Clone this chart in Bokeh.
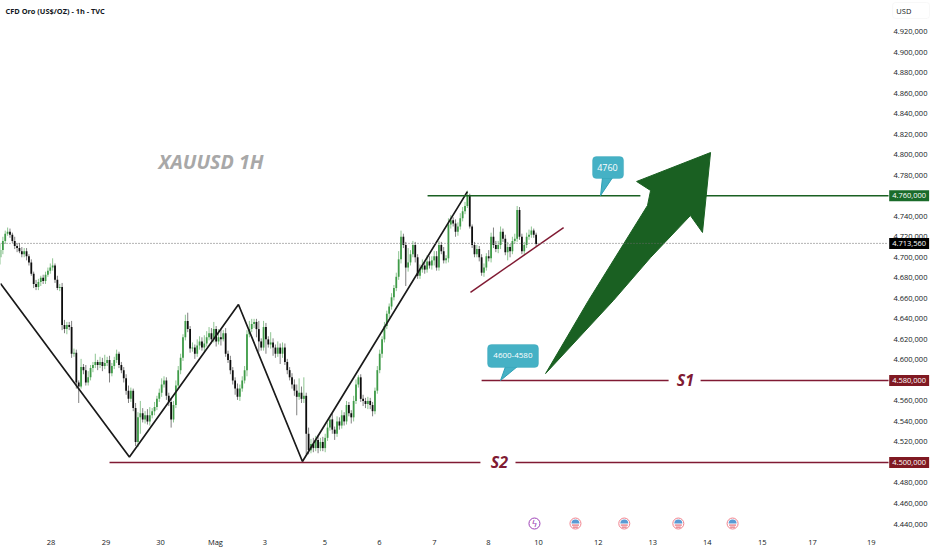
from math import pi
from bokeh.plotting import figure
from bokeh.models import Range1d, FixedTicker, Label, BoxAnnotation, ColumnDataSource
from bokeh.core.properties import value
from bokeh.embed import file_html
from bokeh.resources import INLINE

closes = [
 4707,4716,4723,4725,4722,4716,4711,4709,4706,4703,
 4706,4701,4695,4684,4674,4671,4676,4680,4677,4683,
 4687,4690,4692,4678,4670,4671,4634,4630,4634,4632,
 4606,4607,4578,4574,4593,4590,4578,4583,4592,4595,
 4598,4595,4598,4594,4597,4600,4587,4594,4600,4606,
 4595,4590,4582,4570,4562,4570,4553,4520,4544,4548,
 4542,4546,4540,4546,4550,4554,4562,4568,4576,4580,
 4565,4559,4542,4556,4575,4590,4602,4622,4638,4630,
 4611,4612,4606,4614,4618,4612,4616,4622,4626,4620,
 4630,4618,4622,4620,4626,4606,4600,4590,4580,4572,
 4564,4572,4580,4590,4625,4630,4635,4637,4630,4618,
 4612,4632,4620,4615,4617,4612,4606,4612,4606,4612,
 4598,4590,4583,4576,4570,4564,4568,4562,4565,4528,
 4512,4518,4514,4522,4514,4520,4514,4524,4534,4542,
 4532,4528,4540,4536,4546,4540,4556,4548,4544,4560,
 4576,4583,4562,4560,4557,4560,4556,4550,4570,4590,
 4606,4620,4633,4645,4652,4661,4670,4681,4698,4720,
 4712,4690,4695,4703,4712,4700,4682,4688,4692,4688,
 4696,4692,4697,4701,4690,4712,4706,4697,4699,4732,
 4736,4733,4725,4730,4738,4745,4750,4760,4730,4712,
 4703,4708,4700,4685,4690,4701,4699,4720,4712,4708,
 4712,4725,4718,4705,4710,4706,4716,4718,4746,4720,
 4706,4712,4720,4722,4726,4722,4713]
first_open = 4700

upper_wick = [
 6,4,3,4,3,2,4,3,5,4,
 3,3,2,3,2,4,3,2,3,3,
 3,4,7,2,4,3,4,5,3,3,
 6,4,3,2,8,3,5,6,3,3,
 8,2,5,4,8,3,4,3,3,4,
 2,3,3,4,5,3,2,5,5,12,
 5,4,6,8,3,5,3,4,6,4,
 3,3,4,4,5,4,4,3,6,8,
 3,5,3,6,5,4,8,6,6,5,
 7,3,8,8,3,5,3,4,3,3,
 5,4,4,4,4,8,5,3,3,8,
 3,6,4,3,10,4,3,6,4,5,
 4,3,3,4,5,6,14,6,18,3,
 6,5,6,4,5,4,5,4,5,3,
 6,3,5,4,5,3,4,3,3,5,
 5,2,3,4,3,4,3,3,3,4,
 4,3,4,3,3,4,3,4,8,6,
 3,3,14,4,4,3,3,5,6,3,
 6,5,4,5,5,4,3,4,3,6,
 5,3,4,4,5,4,4,5,2,2,
 3,4,3,3,4,3,6,4,9,4,
 4,5,3,4,5,3,4,5,4,3,
 3,3,4,5,4,2,2]

lower_wick = [
 7,4,3,2,3,2,3,4,2,3,
 3,4,3,2,4,3,3,4,3,3,
 2,3,3,3,2,3,5,4,5,3,
 4,3,6,16,2,4,3,3,3,4,
 3,5,3,5,3,3,9,3,3,3,
 3,3,4,4,4,3,3,4,5,16,
 3,4,3,4,3,4,3,3,4,3,
 4,4,8,3,3,3,4,3,3,3,
 4,3,5,3,4,3,4,3,3,4,
 3,5,3,6,2,3,3,4,4,6,
 3,4,3,3,6,3,3,4,8,10,
 3,3,14,3,4,8,4,3,10,4,
 3,4,3,4,5,18,3,4,4,20,
 4,3,4,3,5,3,3,4,3,3,
 4,6,3,4,3,4,3,3,6,4,
 3,3,3,5,4,5,4,5,3,3,
 3,4,3,3,4,3,3,3,3,4,
 3,18,4,3,3,5,3,3,3,4,
 3,3,4,5,3,3,3,3,3,4,
 4,3,5,4,3,3,3,2,2,3,
 3,3,4,3,4,3,3,4,3,3,
 4,4,3,3,8,6,3,3,3,3,
 3,4,3,3,3,3,2]

opens = [first_open] + closes[:-1]
bars = list(range(len(closes)))
tops = [max(o, c) for o, c in zip(opens, closes)]
bots = [min(o, c) for o, c in zip(opens, closes)]
highs = [t + u for t, u in zip(tops, upper_wick)]
lows = [b - l for b, l in zip(bots, lower_wick)]

y_ticks = [4440,4460,4480,4500,4520,4540,4560,4580,4600,4620,4640,4660,4680,4700,
           4720,4740,4760,4780,4800,4820,4840,4860,4880,4900,4920]
y_labels = ["4.440,000","4.460,000","4.480,000","4.500,000","4.520,000","4.540,000",
            "4.560,000","4.580,000","4.600,000","4.620,000","4.640,000","4.660,000",
            "4.680,000","4.700,000","4.720,000","4.740,000","4.760,000","4.780,000",
            "4.800,000","4.820,000","4.840,000","4.860,000","4.880,000","4.900,000","4.920,000"]
x_ticks = [21.3,44.5,67.5,90.7,111.6,136.9,159.9,183.1,205.9,227.0,252.2,275.2,298.2,321.4,342.6,367.4]
x_labels = ["28","29","30","Mag","3","5","6","7","8","10","12","13","14","15","17","19"]

zig_bars = [0,54.4,100.4,127.4,197]
zig_prices = [4674.5,4505.4,4654,4501,4764]
trend_bars = [198.3,237.6]
trend_prices = [4665.7,4729]
arrow_bars = [230,258.6,274.3,291.1,296.2,299.6,268.4,274.3,273,248.1]
arrow_prices = [4586.7,4657.9,4699.8,4740.7,4724.2,4802.1,4773.9,4765.1,4750.5,4657.9]
last_price = 4713.56
res_price = 4760
s1_price = 4580
s2_price = 4500
event_bars = [242.6,263.2,286,308.9]
lightning_bar = 225.3
event_price = 4440.5

UP = "#3f9b48"; DOWN = "#0d0d0d"; RED = "#801a33"; GREEN = "#1a6022"
TEXT = "#131722"; FONT = "Open Sans"

p = figure(frame_width=932, frame_height=530, output_backend="svg", toolbar_location=None,
           x_range=Range1d(0, 393.25), y_range=Range1d(4433.7, 4950.3),
           x_axis_location="below", y_axis_location="right",
           min_border_left=0, min_border_top=0, min_border_right=0, min_border_bottom=0,
           outline_line_color=None, background_fill_color="white", border_fill_color="white")
p.grid.visible = False

for ax in (p.xaxis[0], p.yaxis[0]):
    ax.axis_line_color = None
    ax.major_tick_line_color = None
    ax.minor_tick_line_color = None
    ax.major_tick_out = 0
    ax.major_tick_in = 0
    ax.minor_tick_out = 0
    ax.minor_tick_in = 0
    ax.major_label_text_color = TEXT
    ax.major_label_text_font = FONT
    ax.major_label_text_font_size = "7.5px"
p.yaxis[0].ticker = FixedTicker(ticks=y_ticks)
p.yaxis[0].major_label_overrides = dict(zip(y_ticks, y_labels))
p.yaxis[0].major_label_standoff = -39
p.xaxis[0].ticker = FixedTicker(ticks=x_ticks)
p.xaxis[0].major_label_overrides = dict(zip(x_ticks, x_labels))
p.xaxis[0].major_label_standoff = 6

up_i = [i for i in bars if closes[i] >= opens[i]]
dn_i = [i for i in bars if closes[i] < opens[i]]
def subset(idx):
    return ColumnDataSource(dict(x=[bars[i] for i in idx], hi=[highs[i] for i in idx],
                                 lo=[lows[i] for i in idx], top=[tops[i] for i in idx],
                                 bot=[bots[i] for i in idx]))
up_src, dn_src = subset(up_i), subset(dn_i)
p.segment("x", "lo", "x", "hi", source=up_src, line_color="#8ec592", line_width=1)
p.segment("x", "lo", "x", "hi", source=dn_src, line_color="#808080", line_width=1)
p.vbar("x", 0.75, "bot", "top", source=up_src, fill_color=UP, line_color=None)
p.vbar("x", 0.75, "bot", "top", source=dn_src, fill_color=DOWN, line_color=None)

p.line(zig_bars, zig_prices, line_color="#1a1a1a", line_width=1.7)
p.line(trend_bars, trend_prices, line_color=RED, line_width=1.5)

p.line([180.2, 270], [res_price]*2, line_color=GREEN, line_width=1.5)
p.line([280, 374.7], [res_price]*2, line_color=GREEN, line_width=1.5)
p.line([203, 281.9], [s1_price]*2, line_color=RED, line_width=1.5)
p.line([295.4, 374.7], [s1_price]*2, line_color=RED, line_width=1.5)
p.line([46, 202.5], [s2_price]*2, line_color=RED, line_width=1.5)
p.line([217.3, 374.7], [s2_price]*2, line_color=RED, line_width=1.5)

p.patch(arrow_bars, arrow_prices, fill_color=GREEN, line_color=GREEN, line_width=1, line_join="round")
p.line([0, 374.7], [last_price]*2, line_color="#666666", line_width=1, line_dash="1 2")

# callouts
BUB = "#45b1c5"; BUB_L = "#2ea0b4"
p.patch([254, 253.2, 258.2], [4777.5, 4760.2, 4777.5], fill_color=BUB, line_color=BUB_L)
p.patch([213.1, 211, 218.1], [4593.5, 4580, 4593.5], fill_color=BUB, line_color=BUB_L)
for l, r, t, b in [(249.8, 262.9, 4798.2, 4776.8), (205.5, 227, 4615, 4592.6)]:
    p.add_layout(BoxAnnotation(left=l, right=r, top=t, bottom=b, fill_color=BUB, fill_alpha=1,
                               line_color=BUB_L, line_width=1, border_radius=4))
def lab(x, y, text, size, color, style="normal", align="center", font=FONT, **kw):
    p.add_layout(Label(x=x, y=y, text=text, text_font=font, text_font_size=size, text_color=color,
                       text_font_style=style, text_align=align, text_baseline="middle", **kw))
lab(256.1, 4787.5, "4760", "9px", "white")
lab(216.2, 4604.3, "4600-4580", "8px", "white")
lab(289, s1_price, "S1", "16px", RED, "bold italic")
lab(210.5, s2_price, "S2", "16px", RED, "bold italic")
lab(66.7, 4793.4, "XAUUSD 1H", "19.7px", "#a8a8a8", "bold italic", "left")
lab(2.1, 4940.5, "CFD Oro (US$/OZ) - 1h - TVC", "7.4px", "#131722", "bold", "left")

# price tags on the scale
for y, txt, col in [(res_price, "4.760,000", "#1a6b2a"), (last_price, "4.713,560", "#000000"),
                    (s1_price, "4.580,000", "#801922"), (s2_price, "4.500,000", "#801922")]:
    lab(383.4, y, txt, "7.5px", "white", background_fill_color=col, padding=3)

p.add_layout(BoxAnnotation(left=376.4, right=392, top=4948.4, bottom=4932.8, fill_alpha=0,
                           line_color="#e8e8e8", line_width=1, border_radius=3))
lab(378, 4939.6, "USD", "7.5px", TEXT, align="left")

# event markers
n = len(event_bars)
p.scatter(event_bars, [event_price]*n, size=11, fill_color="white", line_color="#f0808c", line_width=1)
p.wedge(event_bars, [event_price]*n, radius=4, radius_units="screen", start_angle=0, end_angle=pi,
        fill_color="#5b9bd5", line_color=None)
p.scatter(event_bars, [event_price - 1.5]*n, marker="dash", size=7, line_color="#e0505f", line_width=1)
p.scatter(event_bars, [event_price - 3.5]*n, marker="dash", size=5, line_color="#e0505f", line_width=1)
p.scatter([lightning_bar], [event_price], size=11, fill_color="white", line_color="#9c3fb5", line_width=1)
p.text([lightning_bar], [event_price], text=["ϟ"], text_color="#9c3fb5", text_font_size="9px",
       text_align="center", text_baseline="middle", text_font=value("DejaVu Sans"))

open("out.html", "w").write(file_html(p, INLINE))
